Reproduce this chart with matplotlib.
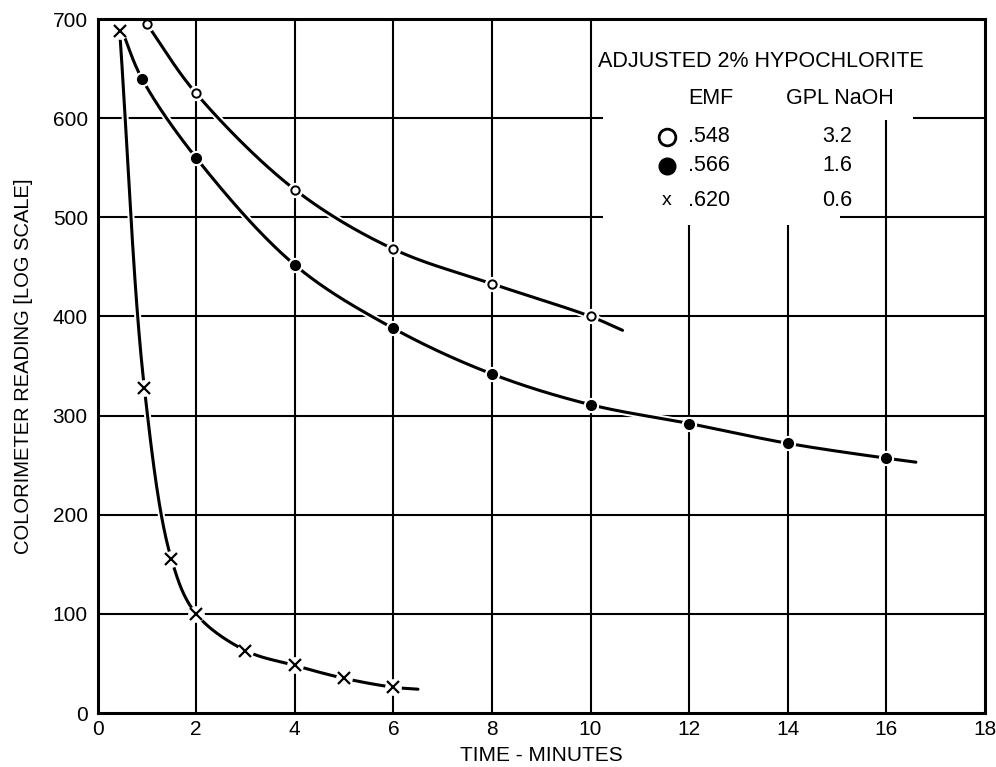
import numpy as np
import matplotlib.pyplot as plt
from matplotlib.patches import Rectangle

plt.rcParams['font.family'] = ['Liberation Sans', 'DejaVu Sans']

# EMF .548 / 3.2 GPL NaOH  (open circles)
open_time = [1, 2, 4, 6, 8, 10]
open_reading = [695, 625, 528, 468, 433, 400]
open_curve_end = (10.65, 386)

# EMF .566 / 1.6 GPL NaOH  (filled dots)
filled_time = [0.9, 2, 4, 6, 8, 10, 12, 14, 16]
filled_reading = [640, 560, 452, 388, 342, 311, 292, 272, 257]
filled_curve_start = (0.5, 688)
filled_curve_end = (16.6, 253)

# EMF .620 / 0.6 GPL NaOH  (crosses)
cross_time = [0.45, 0.95, 1.5, 2, 3, 4, 5, 6]
cross_reading = [688, 328, 155, 100, 63, 48, 35, 26]
cross_curve_end = (6.5, 24)

legend_emf = ['.548', '.566', '.620']
legend_naoh = ['3.2', '1.6', '0.6']

x_ticks = list(range(0, 19, 2))
y_ticks = list(range(0, 701, 100))


def catmull_rom(xs, ys, n=40):
    # centripetal catmull-rom, done in screen-like units so the curve looks hand drawn
    sx, sy = 49.4, 0.99
    p = np.column_stack([np.asarray(xs) * sx, np.asarray(ys) * sy])
    p = np.vstack([2 * p[0] - p[1], p, 2 * p[-1] - p[-2]])
    out = []
    for i in range(1, len(p) - 2):
        p0, p1, p2, p3 = p[i - 1], p[i], p[i + 1], p[i + 2]
        t0 = 0.0
        t1 = t0 + np.linalg.norm(p1 - p0) ** 0.5
        t2 = t1 + np.linalg.norm(p2 - p1) ** 0.5
        t3 = t2 + np.linalg.norm(p3 - p2) ** 0.5
        t = np.linspace(t1, t2, n)[:, None]
        a1 = (t1 - t) / (t1 - t0) * p0 + (t - t0) / (t1 - t0) * p1
        a2 = (t2 - t) / (t2 - t1) * p1 + (t - t1) / (t2 - t1) * p2
        a3 = (t3 - t) / (t3 - t2) * p2 + (t - t2) / (t3 - t2) * p3
        b1 = (t2 - t) / (t2 - t0) * a1 + (t - t0) / (t2 - t0) * a2
        b2 = (t3 - t) / (t3 - t1) * a2 + (t - t1) / (t3 - t1) * a3
        c = (t2 - t) / (t2 - t1) * b1 + (t - t1) / (t2 - t1) * b2
        out.append(c)
    out = np.vstack(out)
    return out[:, 0] / sx, out[:, 1] / sy


fig = plt.figure(figsize=(9.96, 7.67), dpi=100)
ax = fig.add_axes([0.0979, 0.0704, 0.8910, 0.9048])
ax.set_xlim(0, 18)
ax.set_ylim(0, 700)

for x in x_ticks[1:-1]:
    ax.axvline(x, color='black', lw=1.5, zorder=1)
for y in y_ticks[1:-1]:
    ax.axhline(y, color='black', lw=1.5, zorder=1)

# blank patch behind the legend text, grid lines are cut there
ax.add_patch(Rectangle((10.25, 598), 6.3, 102, facecolor='white', edgecolor='none', zorder=2))
ax.add_patch(Rectangle((10.25, 492), 4.8, 110, facecolor='white', edgecolor='none', zorder=2))

curves = [
    (open_time, open_reading, None, open_curve_end),
    (filled_time, filled_reading, filled_curve_start, filled_curve_end),
    (cross_time, cross_reading, None, cross_curve_end),
]
for t, r, start, end in curves:
    xs, ys = list(t), list(r)
    if start is not None:
        xs.insert(0, start[0])
        ys.insert(0, start[1])
    xs.append(end[0])
    ys.append(end[1])
    cx, cy = catmull_rom(xs, ys)
    ax.plot(cx, cy, color='white', lw=5, solid_capstyle='round', zorder=3)
    ax.plot(cx, cy, color='black', lw=2.2, solid_capstyle='round', zorder=4)

# white halos so the curve breaks at each point, like the drawing
ax.plot(open_time, open_reading, 'o', ms=10, color='white', zorder=5)
ax.plot(filled_time, filled_reading, 'o', ms=10, color='white', zorder=5)
ax.plot(cross_time, cross_reading, 'o', ms=11, color='white', zorder=5)

ax.plot(open_time, open_reading, 'o', ms=6, mfc='white', mec='black', mew=1.4, zorder=6)
ax.plot(filled_time, filled_reading, 'o', ms=7, color='black', zorder=6)
ax.plot(cross_time, cross_reading, 'x', ms=9, color='black', mew=1.6, zorder=6)

for s in ax.spines.values():
    s.set_linewidth(2.2)
    s.set_zorder(7)

ax.set_xticks(x_ticks)
ax.set_yticks(y_ticks)
ax.tick_params(length=0, labelsize=15)
ax.tick_params(axis='x', pad=5)
ax.tick_params(axis='y', pad=7)
ax.set_xlabel('TIME - MINUTES', fontsize=15, labelpad=5)
ax.set_ylabel('COLORIMETER READING [LOG SCALE]', fontsize=14.5, labelpad=14)

# legend written inside the grid
ax.text(13.45, 657, 'ADJUSTED 2% HYPOCHLORITE', fontsize=15.5, ha='center', va='center', zorder=8)
ax.text(12.44, 620, 'EMF', fontsize=15.5, ha='center', va='center', zorder=8)
ax.text(15.05, 620, 'GPL NaOH', fontsize=15.5, ha='center', va='center', zorder=8)
row_y = [581, 552, 517]
ax.plot(11.55, row_y[0], 'o', ms=12, mfc='white', mec='black', mew=2, zorder=8)
ax.plot(11.55, row_y[1], 'o', ms=12, color='black', zorder=8)
ax.text(11.55, row_y[2], 'x', fontsize=14, ha='center', va='center', zorder=8)
for yy, emf, naoh in zip(row_y, legend_emf, legend_naoh):
    ax.text(11.98, yy, emf, fontsize=15.5, ha='left', va='center', zorder=8)
    ax.text(15.0, yy, naoh, fontsize=15.5, ha='center', va='center', zorder=8)

fig.savefig('out.png', dpi=100, facecolor='white')
